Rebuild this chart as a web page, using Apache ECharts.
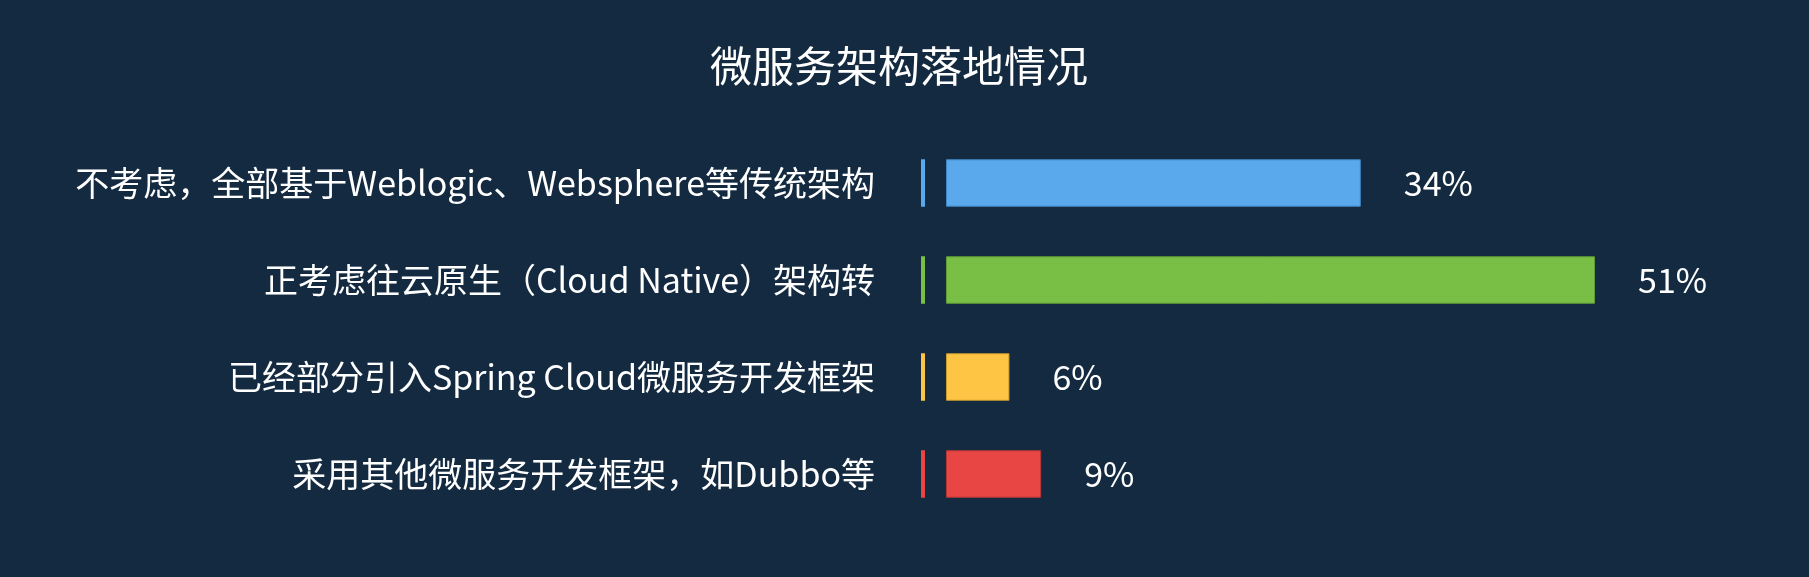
<!DOCTYPE html>
<html>
<head>
<meta charset="utf-8">
<script src="https://cdn.jsdelivr.net/npm/echarts@6/dist/echarts.min.js"></script>
<style>
html,body{margin:0;padding:0;background:#132a40;}
#chart{width:1809px;height:577px;}
</style>
</head>
<body>
<div id="chart"></div>
<script>
const titleText = '微服务架构落地情况';
const categories = [
  '不考虑，全部基于Weblogic、Websphere等传统架构',
  '正考虑往云原生（Cloud Native）架构转',
  '已经部分引入Spring Cloud微服务开发框架',
  '采用其他微服务开发框架，如Dubbo等'
];
const barValues = [34.0, 53.2, 5.2, 7.8];
const valueLabels = ['34%', '51%', '6%', '9%'];
const barColors = ['#5aa9ec', '#79bf45', '#fdc543', '#e84545'];
const borderColors = ['#3f86c4', '#5f9c36', '#c99a2e', '#b83636'];

const font = '"Noto Sans CJK SC", "Noto Sans", sans-serif';
const chart = echarts.init(document.getElementById('chart'));
chart.setOption({
  backgroundColor: '#132a40',
  animation: false,
  title: {
    text: titleText,
    left: 705,
    top: 40,
    textStyle: { color: '#ffffff', fontSize: 42, fontWeight: 'normal', fontFamily: font }
  },
  grid: [
    { left: 946, top: 134.5, width: 732, height: 388 },
    { left: 921, top: 134.5, width: 4, height: 388 }
  ],
  xAxis: [
    { gridIndex: 0, type: 'value', min: 0, max: 60, show: false },
    { gridIndex: 1, type: 'value', min: 0, max: 1, show: false }
  ],
  yAxis: [
    {
      gridIndex: 0, type: 'category', data: categories, inverse: true,
      axisLine: { show: false }, axisTick: { show: false }, splitLine: { show: false },
      axisLabel: { margin: 71, color: '#ffffff', fontSize: 34, fontFamily: font }
    },
    {
      gridIndex: 1, type: 'category', data: categories, inverse: true, show: false
    }
  ],
  series: [
    {
      type: 'bar', xAxisIndex: 0, yAxisIndex: 0, barWidth: 47.5,
      data: barValues.map((v, i) => ({
        value: v,
        itemStyle: { color: barColors[i], borderColor: borderColors[i], borderWidth: 1 }
      })),
      label: {
        show: true, position: 'right', distance: 43,
        color: '#ffffff', fontSize: 34, fontFamily: font,
        formatter: p => valueLabels[p.dataIndex]
      }
    },
    {
      type: 'bar', xAxisIndex: 1, yAxisIndex: 1, barWidth: 47.5, silent: true,
      data: categories.map((c, i) => ({ value: 1, itemStyle: { color: barColors[i] } }))
    }
  ]
});
</script>
</body>
</html>
